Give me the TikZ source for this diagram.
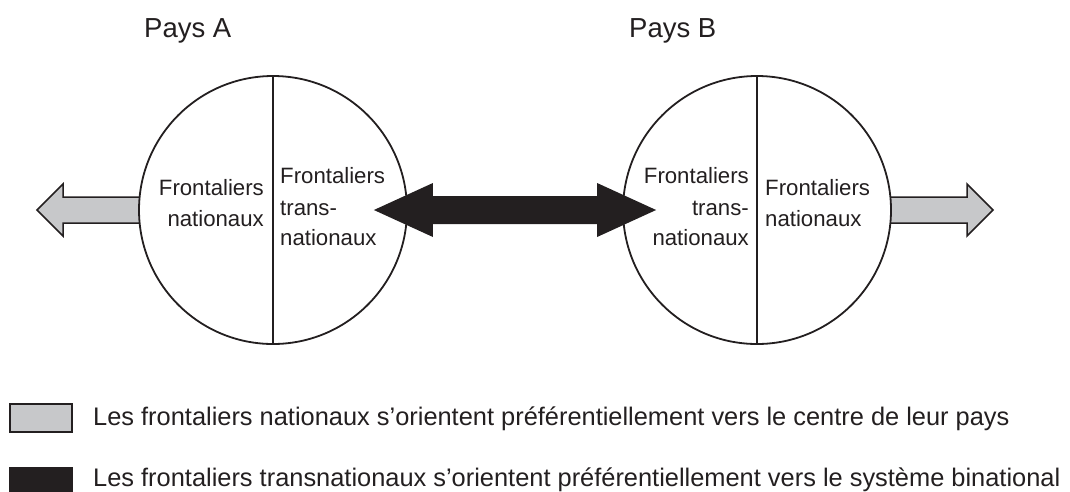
\documentclass[tikz,border=0pt]{standalone}
\usepackage{fontspec}
\setmainfont{Liberation Sans}
\usetikzlibrary{calc}
\definecolor{ink}{HTML}{231F20}
\definecolor{paysgray}{HTML}{C7C8CA}
\begin{document}
\begin{tikzpicture}[x=1pt,y=-1pt,
  country/.style={circle, draw=ink, line width=1.8pt, fill=white, minimum size=268pt, inner sep=0pt},
  divider/.style={draw=ink, line width=1.4pt},
  lbl/.style={font=\fontsize{22.2}{26}\selectfont, text=ink, inner sep=0pt},
  titletxt/.style={font=\fontsize{27.5}{33}\selectfont, text=ink, inner sep=0pt, anchor=base west},
  legendtxt/.style={font=\fontsize{25.4}{30}\selectfont, text=ink, inner sep=0pt, anchor=base west},
  grayarrow/.style={draw=ink, line width=1.5pt, fill=paysgray, line join=miter},
  keybox/.style={draw=ink, line width=1.5pt, inner sep=0pt, minimum width=62pt}
]
\useasboundingbox (0,0) rectangle (1070,491);

% titles
\node[titletxt] (tA) at (144,37) {Pays A};
\node[titletxt] (tB) at (629,37) {Pays B};

% circles positions (for arrows drawn beneath)
\coordinate (cA) at (273,210);
\coordinate (cB) at (757,210);
\coordinate (wA) at (139,210);
\coordinate (eB) at (891,210);

% gray arrows (beneath the circles)
\draw[grayarrow] ($(wA)+(3,-13)$) -- ++(-79,0) -- ++(0,-13) -- ++(-26,26) -- ++(26,26) -- ++(0,-13) -- ++(79,0);
\draw[grayarrow] ($(eB)+(-3,-13)$) -- ++(79,0) -- ++(0,-13) -- ++(26,26) -- ++(-26,26) -- ++(0,-13) -- ++(-79,0);

% circles
\node[country] (A) at (cA) {};
\node[country] (B) at (cB) {};
\draw[divider] (A.north) -- (A.south);
\draw[divider] (B.north) -- (B.south);

% black double arrow between A and B
\coordinate (tl) at ($(A.east)+(-34,0)$);
\coordinate (tr) at ($(B.west)+(34,0)$);
\fill[ink] (tl) -- ($(tl)+(59,-27)$) -- ($(tl)+(59,-14)$) -- ($(tr)+(-59,-14)$) -- ($(tr)+(-59,-27)$) -- (tr)
  -- ($(tr)+(-59,27)$) -- ($(tr)+(-59,14)$) -- ($(tl)+(59,14)$) -- ($(tl)+(59,27)$) -- cycle;

% labels in circle A
\node[lbl, anchor=base east] (an1) at (264,195) {Frontaliers};
\node[lbl, anchor=base east] (an2) at (264,226) {nationaux};
\node[lbl, anchor=base west] (at1) at (280,183) {Frontaliers};
\node[lbl, anchor=base west] (at2) at (280,215) {trans-};
\node[lbl, anchor=base west] (at3) at (280,245) {nationaux};

% labels in circle B
\node[lbl, anchor=base east] (bt1) at (749,183) {Frontaliers};
\node[lbl, anchor=base east] (bt2) at (749,215) {trans-};
\node[lbl, anchor=base east] (bt3) at (749,245) {nationaux};
\node[lbl, anchor=base west] (bn1) at (765,195) {Frontaliers};
\node[lbl, anchor=base west] (bn2) at (765,226) {nationaux};

% legend
\node[keybox, fill=paysgray, minimum height=28pt] (k1) at (41,418) {};
\node[keybox, fill=ink, minimum height=24pt] (k2) at (41,479.5) {};
\node[legendtxt] (l1) at (93,425) {Les frontaliers nationaux s’orientent préférentiellement vers le centre de leur pays};
\node[legendtxt] (l2) at (93,486) {Les frontaliers transnationaux s’orientent préférentiellement vers le système binational};
\end{tikzpicture}
\end{document}
